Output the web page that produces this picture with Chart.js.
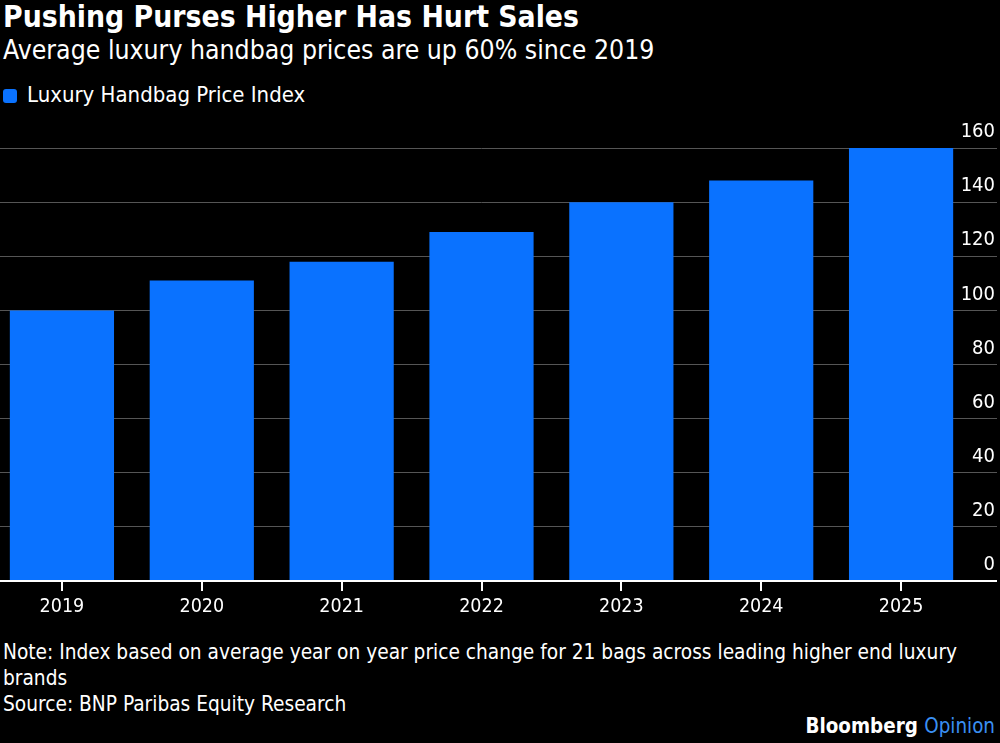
<!DOCTYPE html>
<html>
<head>
<meta charset="utf-8">
<script src="https://cdn.jsdelivr.net/npm/chart.js@4.4.1/dist/chart.umd.min.js"></script>
<style>
  html, body { margin: 0; padding: 0; background: #000; }
  body { width: 1000px; height: 743px; position: relative; overflow: hidden;
         font-family: "Liberation Sans Narrow", "DejaVu Sans Condensed", sans-serif; color: #fff; }
  .txt { position: absolute; white-space: nowrap; }
  #title { left: 3px; top: 1px; font-size: 29.8px; font-weight: bold; line-height: 32px; }
  #subtitle { left: 3px; top: 35px; font-size: 26.4px; line-height: 30px; }
  #legend { left: 3px; top: 83px; font-size: 22px; line-height: 24px; }
  #legend .box { display: inline-block; width: 14px; height: 14px; border-radius: 3px;
                 background: #0a72ff; vertical-align: -1px; margin-right: 10px; }
  #note { left: 3px; top: 639px; width: 990px; font-size: 20.7px; line-height: 26px; white-space: normal; }
  #brand { right: 5px; top: 714px; font-size: 20.4px; font-weight: bold; line-height: 24px; }
  #brand span { color: #3a8ff2; font-weight: normal; }
  #wrap { position: absolute; left: -8px; top: 120px; width: 1008px; height: 510px; }
</style>
</head>
<body>
<div class="txt" id="title">Pushing Purses Higher Has Hurt Sales</div>
<div class="txt" id="subtitle">Average luxury handbag prices are up 60% since 2019</div>
<div class="txt" id="legend"><span class="box"></span>Luxury Handbag Price Index</div>
<div id="wrap"><canvas id="chart"></canvas></div>
<div class="txt" id="note">Note: Index based on average year on year price change for 21 bags across leading higher end luxury brands<br>Source: BNP Paribas Equity Research</div>
<div class="txt" id="brand">Bloomberg <span>Opinion</span></div>

<script>
const years = ['2019', '2020', '2021', '2022', '2023', '2024', '2025'];
const priceIndex = [100, 111, 118, 129, 140, 148, 160];
const yTicks = [0, 20, 40, 60, 80, 100, 120, 140, 160];

const FONT = '"Liberation Sans Narrow", "DejaVu Sans Condensed", sans-serif';

new Chart(document.getElementById('chart'), {
  type: 'bar',
  data: {
    labels: years,
    datasets: [{
      label: 'Luxury Handbag Price Index',
      data: priceIndex,
      backgroundColor: '#0a72ff',
      borderWidth: 0,
      categoryPercentage: 1,
      barPercentage: 0.745
    }]
  },
  options: {
    responsive: true,
    maintainAspectRatio: false,
    animation: false,
    layout: { padding: { top: 28, left: 0, right: 5, bottom: 0 } },
    plugins: { legend: { display: false }, tooltip: { enabled: false } },
    scales: {
      x: {
        offset: true,
        border: { display: false },
        grid: { offset: false, drawOnChartArea: false, drawTicks: true, tickLength: 10, color: '#fff', lineWidth: 2 },
        ticks: { color: '#fff', font: { family: FONT, size: 19.5 }, padding: 4, maxRotation: 0 },
        afterFit: s => { s.height = 49; s.paddingLeft = 0; s.paddingRight = 0; }
      },
      y: {
        position: 'right',
        min: 0,
        max: 160,
        afterBuildTicks: s => { s.ticks = yTicks.map(v => ({ value: v })); },
        border: { display: false },
        grid: {
          color: c => c.tick && c.tick.value === 0 ? '#fff' : '#555',
          lineWidth: c => c.tick && c.tick.value === 0 ? 2 : 1,
          drawTicks: true,
          tickLength: 26
        },
        ticks: {
          color: '#fff',
          font: { family: FONT, size: 20 },
          crossAlign: 'far',
          padding: -32,
          labelOffset: -16
        },
        afterFit: s => {
          s.width = 24;
          s.paddingTop = 0;
          s.paddingBottom = 0;
          // labels sit over the grid lines, left of the axis box, so don't clip them
          s._computeLabelArea = () => null;
        }
      }
    }
  }
});
</script>
</body>
</html>
